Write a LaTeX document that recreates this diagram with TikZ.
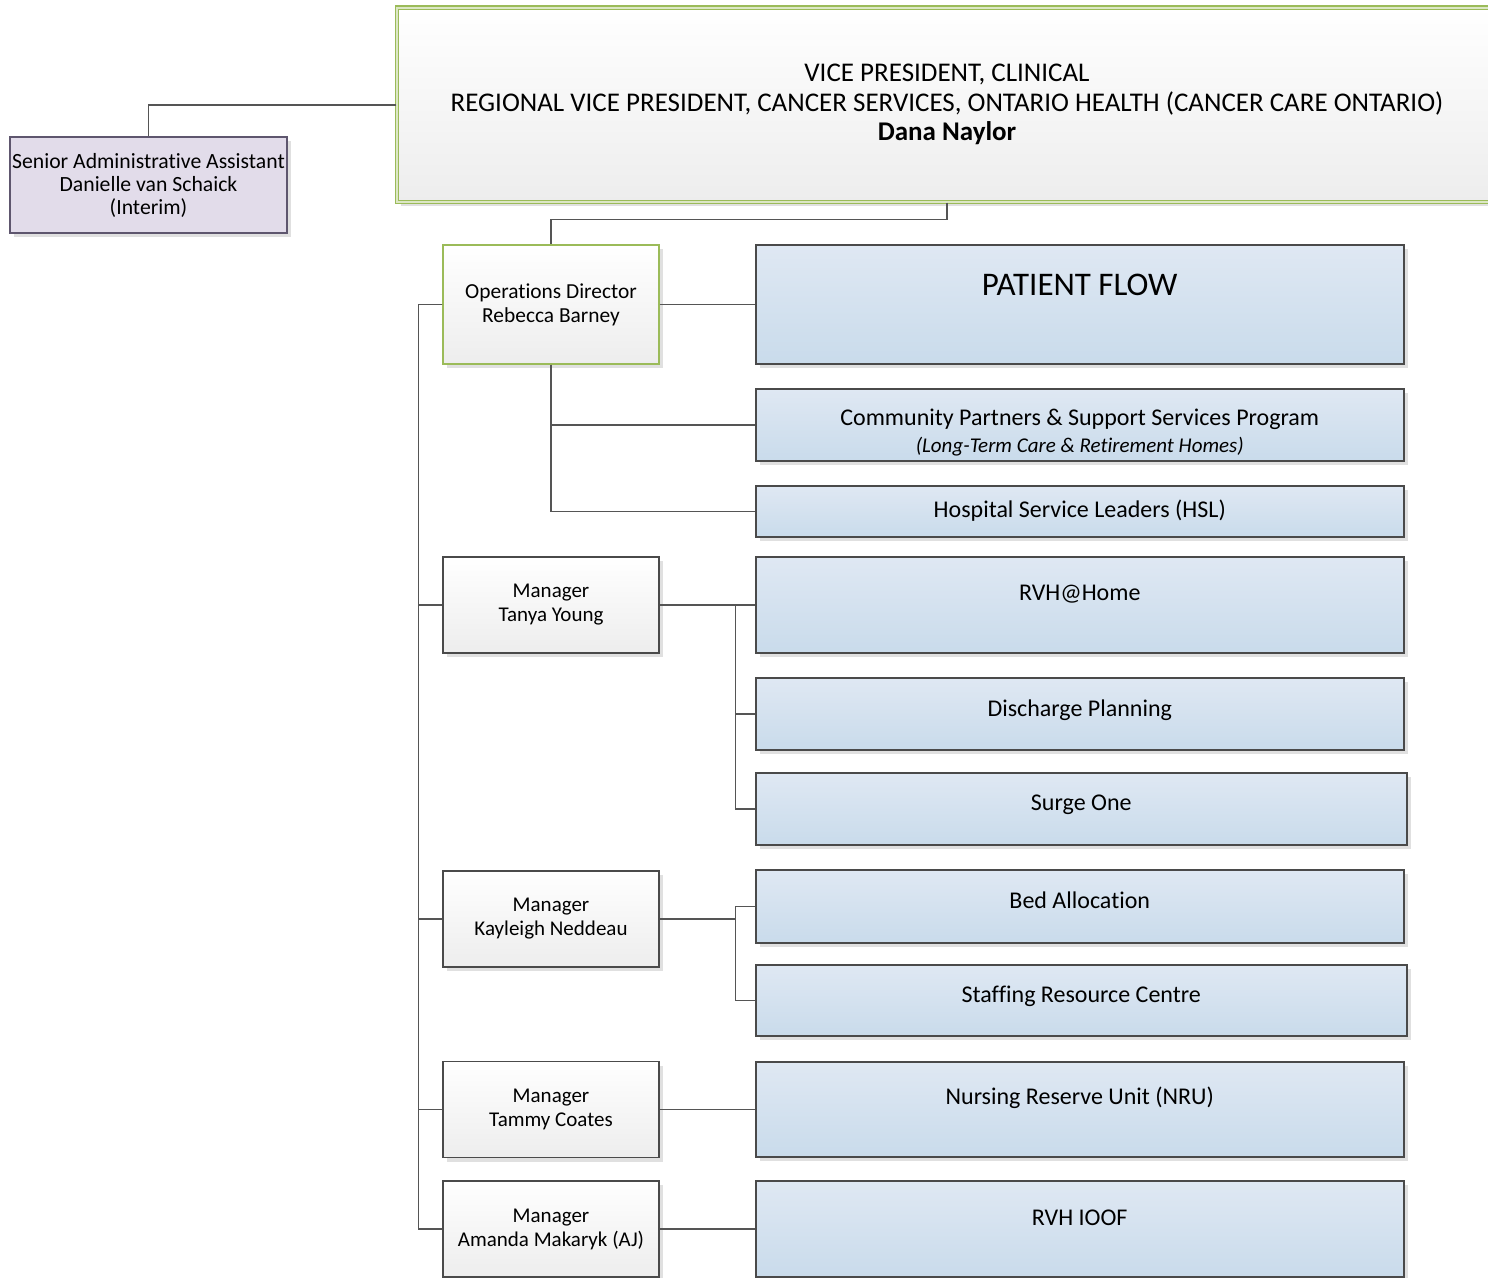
\documentclass[tikz,border=0pt]{standalone}
\usepackage{fontspec}
\setmainfont{Carlito}[Ligatures=NoCommon]
\usepackage{tikz}
\usetikzlibrary{positioning,shadows}
\definecolor{OrgGreen}{HTML}{9BBB59}
\definecolor{OrgLine}{HTML}{555555}
\definecolor{OrgEdge}{HTML}{4A4A4A}
\definecolor{UnitTop}{HTML}{DFE8F3}
\definecolor{UnitBottom}{HTML}{C9DBEB}
\definecolor{LeadBottom}{HTML}{EDEDED}
\definecolor{AdminFill}{HTML}{E2DCEA}
\definecolor{AdminEdge}{HTML}{5E566E}
\tikzset{chart layout/.style={%
    y=-1pt,%
    x=1pt,%
    link/.style={%
        draw=OrgLine, line width=1.5pt%
    }%
}}
\tikzset{lead box/.style={%
    draw=OrgEdge, line width=1.3pt,
    top color=white, bottom color=LeadBottom,
    drop shadow={shadow xshift=4pt, shadow yshift=-4pt, fill=black!12, opacity=1},
    align=center, inner sep=0, minimum width=216, minimum height=96,
    font=\fontsize{21}{24}\selectfont
}}
\tikzset{unit box/.style={%
    lead box, draw=OrgEdge, line width=1.5pt,
    top color=UnitTop, bottom color=UnitBottom,
    anchor=west, minimum width=648
}}
\tikzset{unit text/.style={%
    align=center, inner sep=0,
    font=\fontsize{24}{27}\selectfont
}}

\begin{document}
\begin{tikzpicture}[chart layout]
    \useasboundingbox (0,0) rectangle (1488,1277);

    % top of the chart
    \node (vp) at (947,104.75) [lead box, draw=OrgGreen, line width=1.2pt,
        double=OrgGreen!35!white, double distance=2pt,
        minimum width=1100, minimum height=194.5,
        font=\fontsize{27}{29.5}\selectfont]
        {VICE PRESIDENT, CLINICAL\\REGIONAL VICE PRESIDENT, CANCER SERVICES, ONTARIO HEALTH (CANCER CARE ONTARIO)\\\textbf{Dana Naylor}};
    \node (admin) at (148.5,185) [lead box, draw=AdminEdge, fill=AdminFill,
        top color=AdminFill, bottom color=AdminFill,
        minimum width=277, font=\fontsize{21.7}{23}\selectfont]
        {Senior Administrative Assistant\\Danielle van Schaick\\(Interim)};
    \node (ops) at (551,304.5) [lead box, draw=OrgGreen, minimum height=119,
        font=\fontsize{21.4}{24}\selectfont]
        {Operations Director\\Rebecca Barney};

    \foreach \m/\yy/\who in {tanya/605/Tanya Young, kayleigh/919/Kayleigh Neddeau,
            tammy/1109.5/Tammy Coates, amanda/1229/Amanda Makaryk (AJ)} {
        \node (\m) at (551,\yy) [lead box] {Manager\\\who};
    }

    % units
    \node (flow) at (755,304.5) [unit box, minimum height=119] {};
    \node (flow-t) [unit text, below=51pt of flow.north, anchor=base,
        font=\fontsize{33}{36}\selectfont] {PATIENT FLOW};
    \node (comm) at (755,425) [unit box, minimum height=72] {};
    \node (comm-t) [unit text, below=37pt of comm.north, anchor=base]
        {Community Partners \& Support Services Program};
    \node (comm-s) [unit text, below=27pt of comm-t.base, anchor=base,
        font=\fontsize{21}{24}\selectfont\itshape]
        {(Long-Term Care \& Retirement Homes)};

    \foreach \u/\yy/\hh/\ww/\gap/\txt in {hsl/511.5/51/648/32pt/Hospital Service Leaders (HSL),
            home/605/96/648/44pt/RVH@Home,
            discharge/714/72/648/39pt/Discharge Planning,
            surge/809/72/651/38pt/Surge One,
            bed/906.5/73/648/39pt/Bed Allocation,
            staffing/1000.5/71/651/38pt/Staffing Resource Centre,
            nru/1109.5/95/648/43pt/Nursing Reserve Unit (NRU),
            ioof/1229/96/648/45pt/RVH IOOF} {
        \node (\u) at (755,\yy) [unit box, minimum width=\ww, minimum height=\hh] {};
        \node (\u-t) [unit text, below=\gap of \u.north, anchor=base] {\txt};
    }

    % reporting lines
    \draw[link] (vp.west) -| (admin.north);
    \draw[link] (vp.south) -- ++(0,17) -| (ops.north);
    \draw[link] (ops.east) -- (flow.west);
    \foreach \u in {comm,hsl}
        \draw[link] (ops.south) |- (\u.west);
    \foreach \m in {tanya,kayleigh,tammy,amanda}
        \draw[link] (ops.west) -- ++(-24,0) |- (\m.west);
    \draw[link] (tanya.east) -- (home.west);
    \foreach \u in {discharge,surge}
        \draw[link] (tanya.east) -- ++(76,0) |- (\u.west);
    \foreach \u in {bed,staffing}
        \draw[link] (kayleigh.east) -- ++(76,0) |- (\u.west);
    \draw[link] (tammy.east) -- (nru.west);
    \draw[link] (amanda.east) -- (ioof.west);
\end{tikzpicture}
\end{document}
